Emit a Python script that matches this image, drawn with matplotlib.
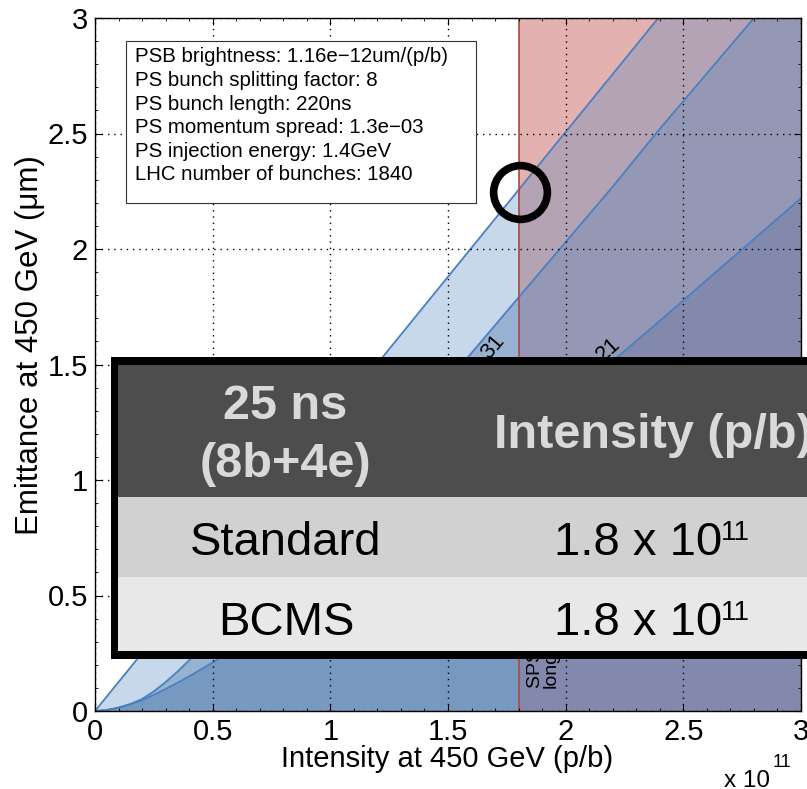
import matplotlib
matplotlib.use("Agg")
import matplotlib.pyplot as plt
from matplotlib.patches import Rectangle, Polygon
import numpy as np

plt.rcParams['font.family'] = ['Liberation Sans', 'DejaVu Sans']

W, H = 807, 789

# intensity at 450 GeV (x 1e11 p/b)
x_psb = [0.0, 3.0]
# PSB brightness line, emittance (um)
eps_psb = [0.0, 3.76]

# tune shift contours "31" and "21"
x_cont = [0, 0.05, 0.1, 0.15, 0.2, 0.25, 0.3, 0.35, 0.4, 0.5, 0.6, 0.8, 1.0,
          1.2, 1.4, 1.6, 1.8, 2.0, 2.2, 2.4, 2.6, 2.8, 3.0]
eps_31 = [0, 0.004, 0.014, 0.03, 0.052, 0.085, 0.125, 0.17, 0.22, 0.32, 0.42,
          0.63, 0.85, 1.07, 1.31, 1.55, 1.79, 2.03, 2.27, 2.52, 2.76, 3.0, 3.24]
eps_21 = [0, 0.004, 0.015, 0.029, 0.046, 0.07, 0.095, 0.122, 0.15, 0.21, 0.275,
          0.411, 0.553, 0.701, 0.855, 1.015, 1.181, 1.345, 1.515, 1.689, 1.866,
          2.043, 2.22]

sps_limit = 1.8
circle_pt = (1.806, 2.248)

info_lines = [
    "PSB brightness: 1.16e\u221212um/(p/b)",
    "PS bunch splitting factor: 8",
    "PS bunch length: 220ns",
    "PS momentum spread: 1.3e\u221203",
    "PS injection energy: 1.4GeV",
    "LHC number of bunches: 1840",
]

tab_head = ["25 ns", "(8b+4e)", "Intensity (p/b)"]
tab_rows = ["Standard", "BCMS"]
tab_vals = ["1.8 x 10", "1.8 x 10"]
tab_exp = ["11", "11"]


def fx(px):
    return px / W


def fy(py):
    return 1 - py / H


fig = plt.figure(figsize=(W / 100, H / 100), dpi=100)
ax = fig.add_axes([fx(95), fy(711), fx(801) - fx(95), fy(18) - fy(711)])
ax.set_xlim(0, 3)
ax.set_ylim(0, 3)

# regions: (upper curve, lower curve, colour left of SPS limit, colour right)
xc = np.array(x_cont)
psb_on_grid = np.interp(xc, x_psb, eps_psb)
regions = [
    (psb_on_grid, np.array(eps_31), '#c6d8ea', '#b3a3b4'),
    (np.array(eps_31), np.array(eps_21), '#97b2d0', '#9598b4'),
    (np.array(eps_21), np.zeros(len(xc)), '#7799c0', '#8389ac'),
]

ax.add_patch(Rectangle((sps_limit, 0), 3 - sps_limit, 3, color='#e4b1b1', lw=0, zorder=1))
for up, lo, c_left, c_right in regions:
    verts = np.vstack([np.column_stack([xc, up]), np.column_stack([xc[::-1], lo[::-1]])])
    for col, x0, w in [(c_left, 0, sps_limit), (c_right, sps_limit, 3 - sps_limit)]:
        p = Polygon(verts, closed=True, facecolor=col, edgecolor='none', zorder=1.2)
        ax.add_patch(p)
        p.set_clip_path(Rectangle((x0, 0), w, 3, transform=ax.transData))

lc = '#4a80c2'
ax.plot(x_psb, eps_psb, color=lc, lw=1.3, zorder=2)
ax.plot(x_cont, eps_31, color=lc, lw=1.3, zorder=2)
ax.plot(x_cont, eps_21, color=lc, lw=1.3, zorder=2)
ax.axvline(sps_limit, color='#b0453e', lw=1.2, zorder=2)

ax.text(1.69, 1.575, "31", rotation=50, fontsize=16, ha='center', va='center', zorder=3)
ax.text(2.18, 1.565, "21", rotation=42, fontsize=16, ha='center', va='center', zorder=3)
ax.text(1.835, 0.1, "SPS limit\nlongitudinal", rotation=90, fontsize=14,
        ha='left', va='bottom', linespacing=0.9, zorder=3)

ax.plot(*circle_pt, 'o', ms=38.7, mfc='none', mec='k', mew=5.5, zorder=6, clip_on=False)

ax.set_xticks(np.arange(0, 3.01, 0.5))
ax.set_yticks(np.arange(0, 3.01, 0.5))
ax.set_xticklabels(['0', '0.5', '1', '1.5', '2', '2.5', '3'])
ax.set_yticklabels(['0', '0.5', '1', '1.5', '2', '2.5', '3'])
ax.set_xticks(np.arange(0, 3.01, 0.1), minor=True)
ax.set_yticks(np.arange(0, 3.01, 0.1), minor=True)
ax.tick_params(which='both', direction='in', top=True, right=True, labelsize=21)
ax.tick_params(which='major', length=5, width=0.8, pad=5)
ax.tick_params(which='minor', length=2.5, width=0.6)
ax.grid(True, which='major', color='k', linestyle=(0, (1, 3.5)), lw=1.0)
ax.set_axisbelow(False)
for s in ax.spines.values():
    s.set_linewidth(1.0)
    s.set_zorder(4)

fig.text(fx(447), fy(759), "Intensity at 450 GeV (p/b)", fontsize=21, ha='center', va='center')
fig.text(fx(30), fy(345), "Emittance at 450 GeV (\u03bcm)", fontsize=22.5, rotation=90,
         ha='center', va='center')
fig.text(fx(724), fy(787), "x 10", fontsize=17.5, ha='left', va='baseline')
fig.text(fx(773), fy(767), "11", fontsize=13, ha='left', va='baseline')

# parameter box
ax.add_patch(Rectangle((fx(126), fy(203)), fx(476) - fx(126), fy(41) - fy(203),
                       transform=fig.transFigure, facecolor='white', edgecolor='#333333',
                       lw=0.8, zorder=5))
for i, line in enumerate(info_lines):
    ax.text(fx(135), fy(57 + i * 23.6), line, transform=fig.transFigure, fontsize=14.7,
            ha='left', va='center', zorder=6)

# overlay table
tz = 20
fig.add_artist(Rectangle((fx(110.5), fy(659)), 1, fy(357) - fy(659),
                         transform=fig.transFigure, facecolor='black', lw=0, zorder=tz))
for y0, y1, col in [(364.5, 497, '#4d4d4d'), (497, 577, '#d1d1d1'), (577, 651, '#e8e8e8')]:
    fig.add_artist(Rectangle((fx(118), fy(y1)), 1, fy(y0) - fy(y1),
                             transform=fig.transFigure, facecolor=col, lw=0, zorder=tz + 1))

hc = '#d9d9d9'
fig.text(fx(285), fy(418.5), tab_head[0], fontsize=35, fontweight='bold', color=hc,
         ha='center', va='baseline', zorder=tz + 2)
fig.text(fx(285), fy(477), tab_head[1], fontsize=35, fontweight='bold', color=hc,
         ha='center', va='baseline', zorder=tz + 2)
fig.text(fx(494), fy(448.5), tab_head[2], fontsize=35, fontweight='bold', color=hc,
         ha='left', va='baseline', zorder=tz + 2)
for i, (name, val, ex) in enumerate(zip(tab_rows, tab_vals, tab_exp)):
    base = 555 + i * 80
    fig.text(fx(286), fy(base), name, fontsize=34, ha='center', va='baseline', zorder=tz + 2)
    fig.text(fx(554), fy(base), val, fontsize=34, ha='left', va='baseline', zorder=tz + 2)
    fig.text(fx(721), fy(base - 15), ex, fontsize=20, ha='left', va='baseline', zorder=tz + 2)

fig.savefig("out.png", dpi=100)
